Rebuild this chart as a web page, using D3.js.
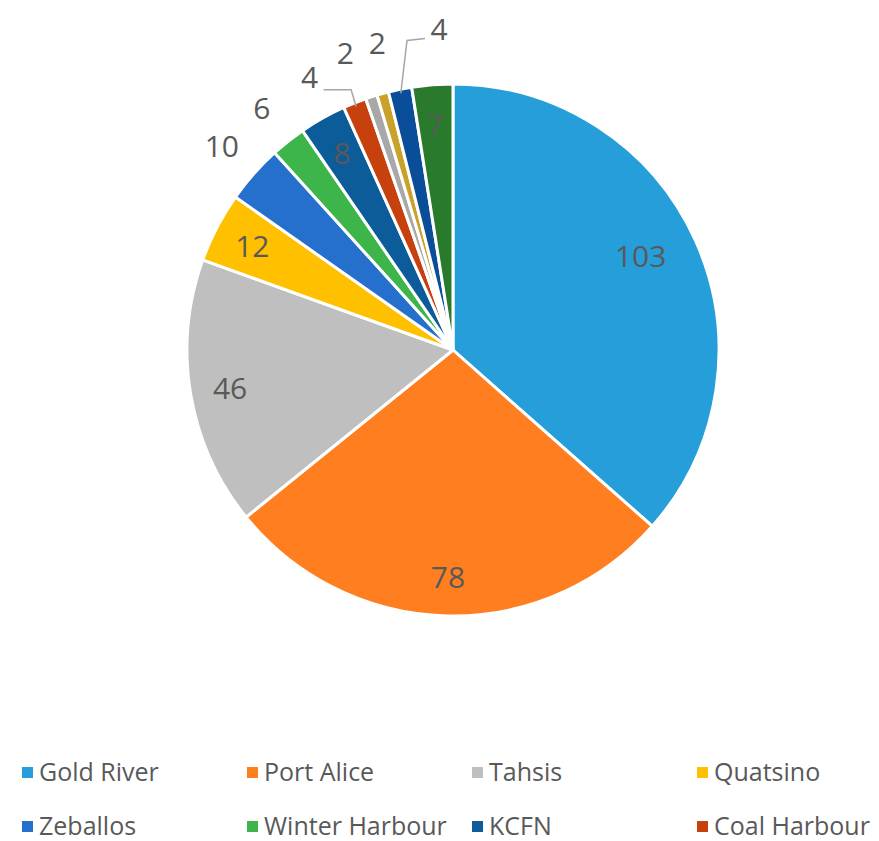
<!DOCTYPE html>
<html>
<head>
<meta charset="utf-8">
<script src="https://cdn.jsdelivr.net/npm/d3@7"></script>
<style>
    body { margin: 0; background: #fff; }
    svg { display: block; }
    text { font-family: "Open Sans", Lato, sans-serif; fill: #595959; }
</style>
</head>
<body>
<svg id="chart" width="879" height="841"></svg>
<script>
// slices, clockwise from 12 o'clock
const names  = ["Gold River", "Port Alice", "Tahsis", "Quatsino", "Zeballos", "Winter Harbour",
                "KCFN", "Coal Harbour", "Other 9", "Other 10", "Other 11", "Other 12"];
const values = [103, 78, 46, 12, 10, 6, 8, 4, 2, 2, 4, 7];
const colors = ["#259ed9", "#ff7f20", "#bfbfbf", "#ffc000", "#2470cc", "#3db54a",
                "#0b5c99", "#c7410f", "#a8a8a8", "#c9a22a", "#0a4e9a", "#2a7a2e"];
// only the first 8 entries fit in the legend
const legendNames = names.slice(0, 8);

const cx = 453, cy = 350, radius = 266;

// label placement: inside or outside, and angle nudge (deg) for crowded labels
const insideLabels = ["Gold River", "Port Alice", "Tahsis", "Quatsino", "KCFN", "Other 12"];
const labelNudge = {"Gold River": -2.5, "Coal Harbour": -6, "Other 9": -2, "Other 10": 1.5, "Other 11": 9};
const labelRadius = {"Gold River": 0.79, "Other 9": 1.19, "Other 10": 1.19, "Other 11": 1.21};
const leaderLines = ["Coal Harbour", "Other 11"];

const data = names.map((n, i) => ({name: n, value: values[i], color: colors[i]}));

const svg = d3.select("#chart");
const g = svg.append("g").attr("transform", `translate(${cx},${cy})`);

const pie = d3.pie().value(d => d.value).sort(null);
const arcs = pie(data);
const arc = d3.arc().innerRadius(0).outerRadius(radius);

g.selectAll("path.slice")
    .data(arcs)
    .join("path")
    .attr("class", "slice")
    .attr("d", arc)
    .attr("fill", d => d.data.color)
    .attr("stroke", "#fff")
    .attr("stroke-width", 3)
    .attr("stroke-linejoin", "round");

const polar = (a, r) => [Math.sin(a) * r, -Math.cos(a) * r];
const midAngle = d => (d.startAngle + d.endAngle) / 2;

arcs.forEach(d => {
    const inside = insideLabels.includes(d.data.name);
    let a = midAngle(d) + (labelNudge[d.data.name] || 0) * Math.PI / 180;
    const r = radius * (labelRadius[d.data.name] || (inside ? 0.85 : 1.16));
    const [x, y] = polar(a, r);
    g.append("text")
        .attr("x", x).attr("y", y)
        .attr("text-anchor", "middle")
        .attr("dominant-baseline", "central")
        .attr("font-size", 30)
        .text(d.data.value);

    if (leaderLines.includes(d.data.name)) {
        const [ex, ey] = polar(midAngle(d), radius * 0.985);
        let pts;
        if (d.data.name === "Coal Harbour") {
            pts = [[x + 14, y + 13], [ex - 5, y + 13], [ex, ey]];
        } else {
            pts = [[x - 14, y + 10], [x - 32, y + 12], [ex, ey]];
        }
        g.append("path")
            .attr("d", d3.line()(pts))
            .attr("fill", "none")
            .attr("stroke", "#a6a6a6")
            .attr("stroke-width", 1.5);
    }
});

// legend
const legend = svg.append("g").attr("font-size", 25);
const colX = d3.range(4).map(i => 22 + i * 225);
const rowY = [781, 835];
let prevEnd = 0;
legendNames.forEach((n, i) => {
    const row = Math.floor(i / 4), col = i % 4;
    if (col === 0) prevEnd = 0;
    const x = Math.max(colX[col], prevEnd + 12);
    const item = legend.append("g").attr("transform", `translate(${x},${rowY[row]})`);
    item.append("rect")
        .attr("x", 0).attr("y", -14).attr("width", 11).attr("height", 11)
        .attr("fill", colors[i]);
    const t = item.append("text")
        .attr("x", 17).attr("y", 0)
        .text(n);
    prevEnd = x + 17 + t.node().getComputedTextLength();
});
</script>
</body>
</html>
